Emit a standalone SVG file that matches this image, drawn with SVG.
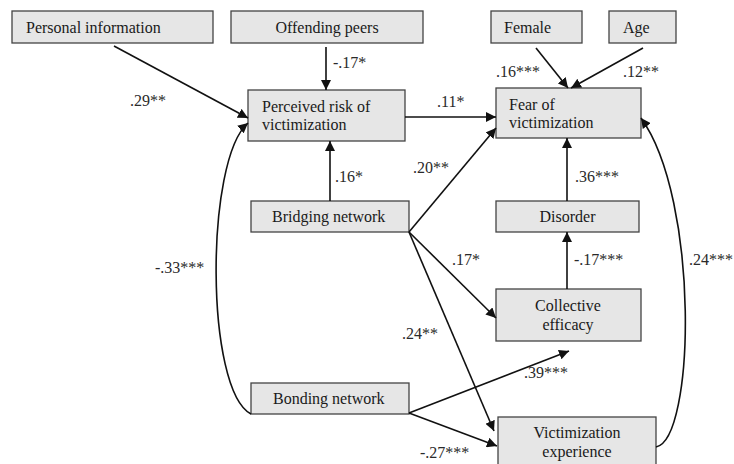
<svg xmlns="http://www.w3.org/2000/svg" width="734" height="464" viewBox="0 0 734 464">
<defs>
<marker id="ah" viewBox="0 0 10 10" refX="10" refY="5" markerWidth="10" markerHeight="10" markerUnits="userSpaceOnUse" orient="auto">
<path d="M0,0 L10,5 L0,10 z" fill="#111"/>
</marker>
<style>
.box{fill:#e6e6e6;stroke:#444;stroke-width:1.3}
.t{font-family:"Liberation Serif","Times New Roman",serif;font-size:16px;fill:#1a1a1a}
.c{text-anchor:middle}
.lab{font-family:"Liberation Serif","Times New Roman",serif;font-size:16px;fill:#2a2a2a}
.e{fill:none;stroke:#111;stroke-width:1.6;marker-end:url(#ah)}
</style>
</defs>
<rect width="734" height="464" fill="#fff"/>
<g id="personal"><rect class="box" x="12" y="11" width="201" height="32"/><text class="t" x="26" y="33">Personal information</text></g>
<g id="peers"><rect class="box" x="231" y="11" width="192" height="32"/><text class="t c" x="327" y="33">Offending peers</text></g>
<g id="female"><rect class="box" x="491" y="11" width="91" height="32"/><text class="t" x="504" y="33">Female</text></g>
<g id="age"><rect class="box" x="609" y="11" width="67" height="32"/><text class="t" x="623" y="33">Age</text></g>
<g id="risk"><rect class="box" x="248" y="90" width="157" height="51"/><text class="t" x="262" y="112">Perceived risk of</text><text class="t" x="262" y="130">victimization</text></g>
<g id="fear"><rect class="box" x="496" y="88" width="145" height="50"/><text class="t" x="509" y="110">Fear of</text><text class="t" x="509" y="128">victimization</text></g>
<g id="bridging"><rect class="box" x="251" y="201" width="158" height="31"/><text class="t" x="272" y="222">Bridging network</text></g>
<g id="disorder"><rect class="box" x="496" y="201" width="143" height="31"/><text class="t c" x="567.5" y="222">Disorder</text></g>
<g id="collective"><rect class="box" x="496" y="289" width="145" height="52"/><text class="t c" x="568" y="311">Collective</text><text class="t c" x="568" y="330">efficacy</text></g>
<g id="bonding"><rect class="box" x="251" y="383" width="158" height="31"/><text class="t" x="273" y="404">Bonding network</text></g>
<g id="victim"><rect class="box" x="498" y="417" width="158" height="52"/><text class="t c" x="577" y="438">Victimization</text><text class="t c" x="577" y="457">experience</text></g>
<g id="connectors">
<path class="e" d="M114,46 L248,118"/>
<path class="e" d="M326,47 L326,90"/>
<path class="e" d="M405,117 L496,117"/>
<path class="e" d="M536,48 L568,88"/>
<path class="e" d="M643,48 L571,88"/>
<path class="e" d="M330,201 L330,141"/>
<path class="e" d="M409,232 L496,128"/>
<path class="e" d="M409,232 L496,318"/>
<path class="e" d="M409,232 L494,431"/>
<path class="e" d="M567,201 L567,138"/>
<path class="e" d="M567,289 L567,232"/>
<path class="e" d="M409,413 L569,351"/>
<path class="e" d="M409,413 L497,446"/>
<path class="e" d="M656,447 C695,440 700,200 641,118"/>
<path class="e" d="M251,414 C205,390 205,160 248,123"/>
</g>
<g id="labels">
<text class="lab" x="130" y="106">.29**</text>
<text class="lab" x="333" y="68">-.17*</text>
<text class="lab" x="437" y="107">.11*</text>
<text class="lab" x="496" y="77">.16***</text>
<text class="lab" x="623" y="77">.12**</text>
<text class="lab" x="335" y="182">.16*</text>
<text class="lab" x="413" y="173">.20**</text>
<text class="lab" x="575" y="182">.36***</text>
<text class="lab" x="452" y="265">.17*</text>
<text class="lab" x="574" y="265">-.17***</text>
<text class="lab" x="689" y="265">.24***</text>
<text class="lab" x="155" y="273">-.33***</text>
<text class="lab" x="402" y="339">.24**</text>
<text class="lab" x="524" y="378">.39***</text>
<text class="lab" x="420" y="458">-.27***</text>
</g>
</svg>
